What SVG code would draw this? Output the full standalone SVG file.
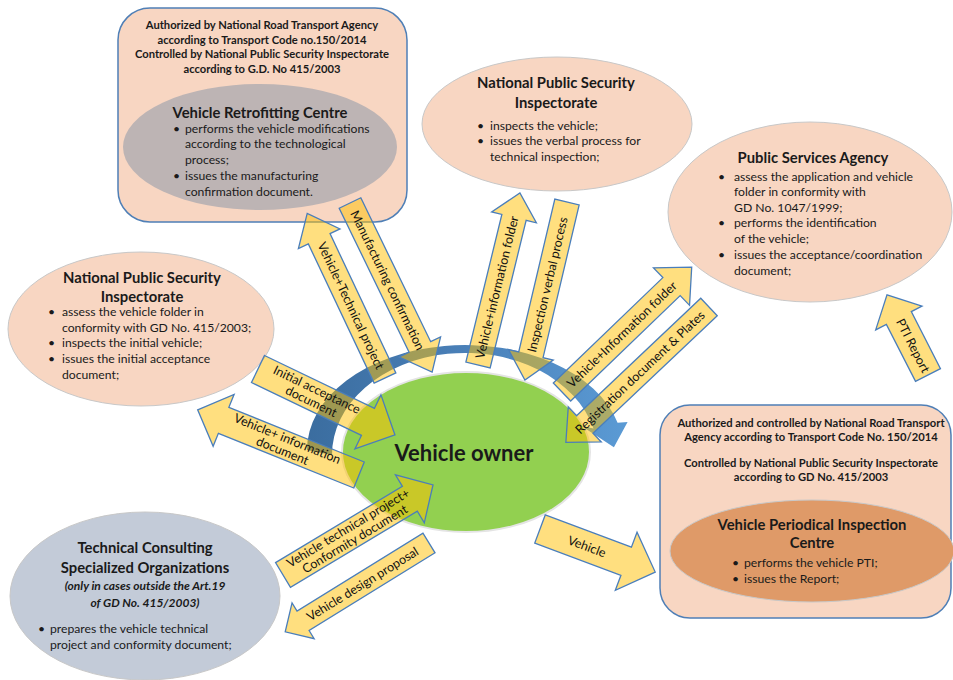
<svg xmlns="http://www.w3.org/2000/svg" width="953" height="680" viewBox="0 0 953 680">
<defs>
<linearGradient id="band" x1="300" y1="0" x2="630" y2="0" gradientUnits="userSpaceOnUse">
<stop offset="0" stop-color="#3a6c9e"/><stop offset="0.5" stop-color="#4a80b8"/><stop offset="1" stop-color="#5b9bd5"/>
</linearGradient>
</defs>
<style>
.t{font-family:Lato,"Liberation Sans",sans-serif;fill:#1a1a1a}
.h{font-size:11.2px;font-weight:bold;text-anchor:middle}
.ti{font-size:14.8px;font-weight:bold;text-anchor:middle}
.it{font-size:12px;font-weight:bold;font-style:italic;text-anchor:middle}
.b{font-size:12.2px}
.peach{fill:#f8d6c2;stroke:#c8c8c8;stroke-width:1}
.box{fill:#f8d6c2;stroke:#4f7fb6;stroke-width:1.5}
.arr polygon{fill:#ffc000;fill-opacity:.5;stroke:#4a7ebb;stroke-width:1.3}
.al{font-family:Lato,"Liberation Sans",sans-serif;font-size:12.5px;fill:#111;text-anchor:middle}
</style>
<rect width="953" height="680" fill="#fff"/>

<g id="n-retrofit">
<rect x="118" y="8" width="289" height="214" rx="32" class="box"/>
<text class="t h" x="262" y="29">Authorized by National Road Transport Agency</text>
<text class="t h" x="262" y="44">according to Transport Code no.150/2014</text>
<text class="t h" x="262" y="58">Controlled by National Public Security Inspectorate</text>
<text class="t h" x="262" y="73">according to G.D. No 415/2003</text>
<ellipse cx="260" cy="147" rx="137" ry="63" fill="#bdb4b4"/>
<text class="t ti" x="260" y="118">Vehicle Retrofitting Centre</text>
<text class="t b" x="173" y="133">•</text><text class="t b" x="185" y="133">performs the vehicle modifications</text>
<text class="t b" x="185" y="148">according to the technological</text>
<text class="t b" x="185" y="164">process;</text>
<text class="t b" x="173" y="180">•</text><text class="t b" x="185" y="180">issues the manufacturing</text>
<text class="t b" x="185" y="196">confirmation document.</text>
</g>

<g id="n-npsi-top">
<ellipse cx="557" cy="124" rx="135" ry="67" class="peach"/>
<text class="t ti" x="556" y="88">National Public Security</text>
<text class="t ti" x="556" y="108">Inspectorate</text>
<text class="t b" x="477" y="130">•</text><text class="t b" x="490" y="130">inspects the vehicle;</text>
<text class="t b" x="477" y="145">•</text><text class="t b" x="490" y="145">issues the verbal process for</text>
<text class="t b" x="490" y="161">technical inspection;</text>
</g>

<g id="n-psa">
<ellipse cx="810" cy="212" rx="142" ry="90" class="peach"/>
<text class="t ti" x="813" y="163">Public Services Agency</text>
<text class="t b" x="718" y="181">•</text><text class="t b" x="734" y="181">assess the application and vehicle</text>
<text class="t b" x="734" y="196">folder in conformity with</text>
<text class="t b" x="734" y="212">GD No. 1047/1999;</text>
<text class="t b" x="718" y="227">•</text><text class="t b" x="734" y="227">performs the identification</text>
<text class="t b" x="734" y="243">of the vehicle;</text>
<text class="t b" x="718" y="259">•</text><text class="t b" x="734" y="259">issues the acceptance/coordination</text>
<text class="t b" x="734" y="275">document;</text>
</g>

<g id="n-npsi-left">
<ellipse cx="141" cy="329" rx="133" ry="77" class="peach"/>
<text class="t ti" x="142" y="283">National Public Security</text>
<text class="t ti" x="142" y="302">Inspectorate</text>
<text class="t b" x="48" y="316">•</text><text class="t b" x="62" y="316">assess the vehicle folder in</text>
<text class="t b" x="62" y="332">conformity with GD No. 415/2003;</text>
<text class="t b" x="48" y="347">•</text><text class="t b" x="62" y="347">inspects the initial vehicle;</text>
<text class="t b" x="48" y="363">•</text><text class="t b" x="62" y="363">issues the initial acceptance</text>
<text class="t b" x="62" y="379">document;</text>
</g>

<g id="n-tcso">
<ellipse cx="145" cy="596" rx="135" ry="84" fill="#c3cbd8" stroke="#c8c8c8"/>
<text class="t ti" x="145" y="553">Technical Consulting</text>
<text class="t ti" x="145" y="573">Specialized Organizations</text>
<text class="t it" x="145" y="590">(only in cases outside the Art.19</text>
<text class="t it" x="145" y="607">of GD No. 415/2003)</text>
<text class="t b" x="38" y="633">•</text><text class="t b" x="50" y="633">prepares the vehicle technical</text>
<text class="t b" x="50" y="649">project and conformity document;</text>
</g>

<g id="n-vpic">
<rect x="660" y="405" width="291" height="213" rx="30" class="box"/>
<text class="t h" x="811" y="427">Authorized and controlled by National Road Transport</text>
<text class="t h" x="811" y="441">Agency according to Transport Code No. 150/2014</text>
<text class="t h" x="811" y="467">Controlled by National Public Security Inspectorate</text>
<text class="t h" x="811" y="481">according to GD No. 415/2003</text>
<ellipse cx="812" cy="551" rx="142" ry="51" fill="#df9a68" stroke="#c8c8c8"/>
<text class="t ti" x="812" y="530">Vehicle Periodical Inspection</text>
<text class="t ti" x="812" y="548">Centre</text>
<text class="t b" x="732" y="567">•</text><text class="t b" x="744" y="567">performs the vehicle PTI;</text>
<text class="t b" x="732" y="583">•</text><text class="t b" x="744" y="583">issues the Report;</text>
</g>

<g id="n-owner">
<ellipse cx="466" cy="452" rx="124" ry="80" fill="#92d050" stroke="#e4e4e4" stroke-width="2"/>
<text class="t" x="464" y="461" font-size="22" font-weight="bold" text-anchor="middle" fill="#000">Vehicle owner</text>
</g>

<g id="connectors">
<path d="M307,450 A158,105 0 0 1 617.6,422.8 L627.6,421.9 L613.9,447.2 L581.5,425.9 L593.5,428.6 A133,102 0 0 0 332,455 Z" fill="url(#band)"/>

<g class="arr" transform="translate(385,378) rotate(-115.3)">
<polygon points="0,-12 154,-12 154,-23 182,0 154,23 154,12 0,12"/>
<g transform="translate(80,0) rotate(180)"><text class="al" dy=".35em">Vehicle+Technical project</text></g>
</g>
<g class="arr" transform="translate(350,203) rotate(64.1)">
<polygon points="0,-12 160,-12 160,-23 188,0 160,23 160,12 0,12"/>
<text class="al" x="86" dy=".35em">Manufacturing confirmation</text>
</g>
<g class="arr" transform="translate(478,365) rotate(-76.3)">
<polygon points="0,-12.5 152,-12.5 152,-23 177,0 152,23 152,12.5 0,12.5"/>
<text class="al" x="80" dy=".35em">Vehicle+information folder</text>
</g>
<g class="arr" transform="translate(567,202) rotate(103.3)">
<polygon points="0,-12.5 157,-12.5 157,-23 183,0 157,23 157,12.5 0,12.5"/>
<g transform="translate(85,0) rotate(180)"><text class="al" dy=".35em">Inspection verbal process</text></g>
</g>
<g class="arr" transform="translate(562,392) rotate(-43.9)">
<polygon points="0,-12.5 152,-12.5 152,-26 180,0 152,26 152,12.5 0,12.5"/>
<text class="al" x="83" dy=".35em">Vehicle+Information folder</text>
</g>
<g class="arr" transform="translate(709,307) rotate(136.6)">
<polygon points="0,-12 171,-12 171,-24 197,0 171,24 171,12 0,12"/>
<g transform="translate(95,0) rotate(180)"><text class="al" dy=".35em">Registration document &amp; Plates</text></g>
</g>
<g class="arr" transform="translate(928,375) rotate(-117.1)">
<polygon points="0,-14 64,-14 64,-26 90,0 64,26 64,14 0,14"/>
<g transform="translate(33,0) rotate(180)"><text class="al" dy=".35em">PTI Report</text></g>
</g>
<g class="arr" transform="translate(258,369) rotate(25.7)">
<polygon points="0,-15 122,-15 122,-30 152,0 122,30 122,15 0,15"/>
<text class="al" x="62" y="-2.5">Initial acceptance</text>
<text class="al" x="62" y="10.5">document</text>
</g>
<g class="arr" transform="translate(359,475) rotate(-158)">
<polygon points="0,-14 146,-14 146,-28 174,0 146,28 146,14 0,14"/>
<g transform="translate(80,0) rotate(180)"><text class="al" y="-2.5">Vehicle+ information</text><text class="al" y="10.5">document</text></g>
</g>
<g class="arr" transform="translate(283,575) rotate(-31)">
<polygon points="0,-14.5 148,-14.5 148,-28 175,0 148,28 148,14.5 0,14.5"/>
<text class="al" x="80" y="-2.5">Vehicle technical project+</text>
<text class="al" x="80" y="10.5">Conformity document</text>
</g>
<g class="arr" transform="translate(429,543) rotate(148.3)">
<polygon points="0,-11.5 148,-11.5 148,-21 169,0 148,21 148,11.5 0,11.5"/>
<g transform="translate(78,0) rotate(180)"><text class="al" dy=".35em">Vehicle design proposal</text></g>
</g>
<g class="arr" transform="translate(540,529) rotate(20.5)">
<polygon points="0,-15 92,-15 92,-31 123,0 92,31 92,15 0,15"/>
<text class="al" x="50" dy=".35em">Vehicle</text>
</g>
</g>
</svg>
